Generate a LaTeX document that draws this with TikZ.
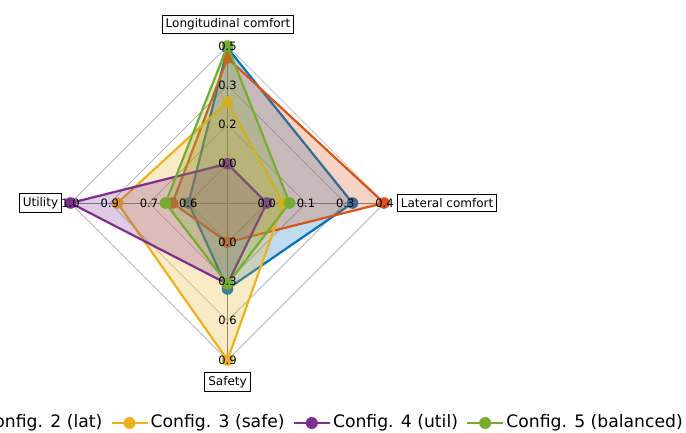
\documentclass[tikz,border=0pt]{standalone}
\usepackage{fontspec}
\setmainfont{DejaVu Sans}
\usetikzlibrary{calc}
\definecolor{cA}{HTML}{0072BD}
\definecolor{cB}{HTML}{D95319}
\definecolor{cC}{HTML}{EDB120}
\definecolor{cD}{HTML}{7E2F8E}
\definecolor{cE}{HTML}{77AC30}
\newcommand\cx{227.5}
\newcommand\cy{203}
\newcommand\radarpoly[5]{%
  \fill[#1, fill opacity=0.25] (\cx,\cy-#2) -- (\cx+#3,\cy) -- (\cx,\cy+#4) -- (\cx-#5,\cy) -- cycle;
  \draw[series, #1] (\cx,\cy-#2) -- (\cx+#3,\cy) -- (\cx,\cy+#4) -- (\cx-#5,\cy) -- cycle;
  \fill[#1] (\cx,\cy-#2) circle (5.8) (\cx+#3,\cy) circle (5.8) (\cx,\cy+#4) circle (5.8) (\cx-#5,\cy) circle (5.8);
}
\begin{document}
\begin{tikzpicture}[x=1pt,y=-1pt,
  grid/.style={draw=black!33, line width=0.7pt},
  axisline/.style={draw=black!50, line width=0.9pt},
  series/.style={line width=2.2pt, line join=round},
  tick/.style={font=\fontsize{11.5}{13}\selectfont, inner sep=0pt, anchor=center},
  axlabel/.style={draw=black, line width=0.8pt, fill=white, inner sep=3.5pt, font=\fontsize{12}{14}\selectfont},
  legtext/.style={font=\fontsize{17.2}{20}\selectfont, inner sep=0pt}]
\useasboundingbox (0,0) rectangle (686,432);
% grid diamonds
\foreach \r in {39.25,78.5,117.75,157}
  \draw[grid] (\cx,\cy-\r) -- (\cx+\r,\cy) -- (\cx,\cy+\r) -- (\cx-\r,\cy) -- cycle;
% axes
\draw[axisline] (\cx,\cy-157) -- (\cx,\cy+157);
\draw[axisline] (\cx-157,\cy) -- (\cx+157,\cy);
% series
\radarpoly{cA}{155}{125}{86}{39}
\radarpoly{cB}{145}{156.5}{39.25}{55}
\radarpoly{cC}{101}{56}{157}{110}
\radarpoly{cD}{39.25}{39.25}{81}{157}
\radarpoly{cE}{157}{62}{81}{62}
% tick labels
\node[tick] (t1) at (\cx,\cy-39.25) {0.0};
\node[tick] (t2) at (\cx,\cy-78.5) {0.2};
\node[tick] (t3) at (\cx,\cy-117.75) {0.3};
\node[tick] (t4) at (\cx,\cy-157) {0.5};
\node[tick] (r1) at (\cx+39.25,\cy) {0.0};
\node[tick] (r2) at (\cx+78.5,\cy) {0.1};
\node[tick] (r3) at (\cx+117.75,\cy) {0.3};
\node[tick] (r4) at (\cx+157,\cy) {0.4};
\node[tick] (b1) at (\cx,\cy+39.25) {0.0};
\node[tick] (b2) at (\cx,\cy+78.5) {0.3};
\node[tick] (b3) at (\cx,\cy+117.75) {0.6};
\node[tick] (b4) at (\cx,\cy+157) {0.9};
\node[tick] (l1) at (\cx-39.25,\cy) {0.6};
\node[tick] (l2) at (\cx-78.5,\cy) {0.7};
\node[tick] (l3) at (\cx-117.75,\cy) {0.9};
\node[tick] (l4) at (\cx-157,\cy) {1.0};
% axis titles
\node[axlabel, anchor=south] (lon) at (228,34) {Longitudinal comfort};
\node[axlabel, anchor=west] (lat) at (397,\cy) {Lateral comfort};
\node[axlabel, anchor=east] (uti) at (62,\cy) {Utility};
\node[axlabel, anchor=north] (saf) at (227.5,372) {Safety};
% legend (chained from the right)
\node[legtext, anchor=east] (g5) at (683,423) {Config. 5 (balanced)};
\coordinate (e5) at ([xshift=-3pt]g5.west);
\coordinate (s5) at ([xshift=-36pt]e5);
\node[legtext, anchor=east] (g4) at ([xshift=-9pt]s5) {Config. 4 (util)};
\coordinate (e4) at ([xshift=-3pt]g4.west);
\coordinate (s4) at ([xshift=-36pt]e4);
\node[legtext, anchor=east] (g3) at ([xshift=-9pt]s4) {Config. 3 (safe)};
\coordinate (e3) at ([xshift=-3pt]g3.west);
\coordinate (s3) at ([xshift=-36pt]e3);
\node[legtext, anchor=east] (g2) at ([xshift=-9pt]s3) {Config. 2 (lat)};
\coordinate (e2) at ([xshift=-3pt]g2.west);
\coordinate (s2) at ([xshift=-36pt]e2);
\foreach \i/\c in {2/cB,3/cC,4/cD,5/cE}{
  \draw[series, \c] (s\i) -- (e\i);
  \fill[\c] ($(s\i)!0.5!(e\i)$) circle (6);
}
\end{tikzpicture}
\end{document}
